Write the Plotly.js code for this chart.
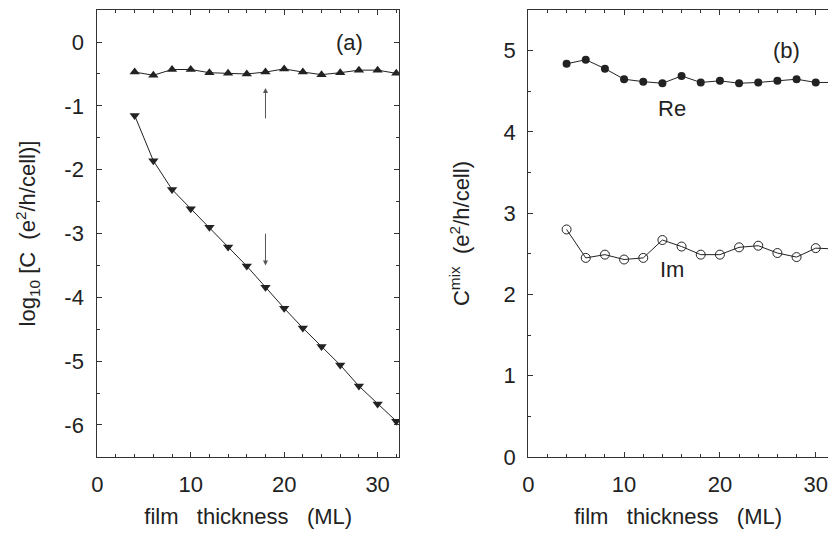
<!DOCTYPE html>
<html>
<head>
<meta charset="utf-8">
<script src="https://cdn.plot.ly/plotly-3.0.1.min.js"></script>
<style>html,body{margin:0;padding:0;background:#fff;}#chart{width:828px;height:535px;}</style>
</head>
<body>
<div id="chart"></div>
<script>
// ---- data ----
var thickness = [4, 6, 8, 10, 12, 14, 16, 18, 20, 22, 24, 26, 28, 30, 32];
// panel (a): log10 conductance
var logC_upper = [-0.47, -0.52, -0.43, -0.43, -0.48, -0.49, -0.50, -0.47, -0.42, -0.47, -0.51, -0.48, -0.44, -0.44, -0.49];
var logC_lower = [-1.15, -1.86, -2.31, -2.61, -2.90, -3.21, -3.51, -3.84, -4.17, -4.48, -4.77, -5.06, -5.39, -5.67, -5.94];
// panel (b): mixing conductance
var Cmix_Re = [4.84, 4.89, 4.78, 4.65, 4.62, 4.60, 4.69, 4.61, 4.63, 4.60, 4.61, 4.63, 4.65, 4.61, 4.61];
var Cmix_Im = [2.80, 2.45, 2.49, 2.43, 2.45, 2.67, 2.59, 2.49, 2.49, 2.58, 2.60, 2.51, 2.46, 2.57, 2.56];
// tick labels
var xTickVals = [0, 10, 20, 30];
var xTickText = ["0", "10", "20", "30"];
var yTickValsA = [-6, -5, -4, -3, -2, -1, 0];
var yTickTextA = ["-6", "-5", "-4", "-3", "-2", "-1", "0"];
var yTickValsB = [0, 1, 2, 3, 4, 5];
var yTickTextB = ["0", "1", "2", "3", "4", "5"];
// labels
var panelLabels = ["(a)", "(b)"];
var seriesLabels = ["Re", "Im"];
var xTitle = "film\u00a0\u00a0\u00a0thickness\u00a0\u00a0\u00a0(ML)";
var yTitleA = "log<sub>10</sub>\u00a0[C\u00a0\u00a0(e<sup>2</sup>/h/cell)]";
var yTitleB = "C<sup>mix</sup>\u00a0\u00a0(e<sup>2</sup>/h/cell)";

var ink = "#222";
var fontFam = "Liberation Sans, Arial, sans-serif";
var fs = 22;

var traces = [
  {x: thickness, y: logC_upper, xaxis: "x", yaxis: "y", mode: "lines+markers",
   line: {color: ink, width: 1}, marker: {symbol: "triangle-up", size: 9, color: ink}},
  {x: thickness, y: logC_lower, xaxis: "x", yaxis: "y", mode: "lines+markers",
   line: {color: ink, width: 1}, marker: {symbol: "triangle-down", size: 9, color: ink}},
  {x: thickness, y: Cmix_Re, xaxis: "x2", yaxis: "y2", mode: "lines+markers",
   line: {color: ink, width: 1}, marker: {symbol: "circle", size: 8, color: ink}},
  {x: thickness, y: Cmix_Im, xaxis: "x2", yaxis: "y2", mode: "lines+markers",
   line: {color: ink, width: 1}, marker: {symbol: "circle-open", size: 9, color: ink, line: {width: 1, color: ink}}}
];

function xax(domain, range, anchor) {
  return {
    domain: domain, range: range, anchor: anchor,
    showline: true, linecolor: "#333", linewidth: 1, mirror: "ticks",
    ticks: "inside", ticklen: 5, tickcolor: "#333",
    tickmode: "array", tickvals: xTickVals, ticktext: xTickText,
    minor: {tickmode: "linear", tick0: 0, dtick: 2, ticks: "inside", ticklen: 3, tickcolor: "#333"},
    showgrid: false, zeroline: false, ticklabelstandoff: 8,
    tickfont: {family: fontFam, size: fs, color: ink},
    title: {text: xTitle, font: {family: fontFam, size: fs, color: ink}, standoff: 12}
  };
}
function yax(domain, range, anchor, mirror, title, vals, text, standoff, lblOff) {
  return {
    domain: domain, range: range, anchor: anchor,
    showline: true, linecolor: "#333", linewidth: 1, mirror: mirror,
    ticks: "inside", ticklen: 5, tickcolor: "#333",
    tickmode: "array", tickvals: vals, ticktext: text,
    minor: {tickmode: "linear", tick0: 0, dtick: 0.5, ticks: "inside", ticklen: 3, tickcolor: "#333"},
    showgrid: false, zeroline: false, ticklabelstandoff: lblOff,
    tickfont: {family: fontFam, size: fs, color: ink},
    title: {text: title, font: {family: fontFam, size: fs, color: ink}, standoff: standoff}
  };
}

var layout = {
  width: 828, height: 535,
  margin: {l: 0, r: 0, t: 0, b: 0},
  paper_bgcolor: "#fff", plot_bgcolor: "#fff",
  showlegend: false,
  font: {family: fontFam, color: ink},
  xaxis: xax([0.1175, 0.482], [0, 32.3], "y"),
  yaxis: yax([0.146, 0.981], [-6.5, 0.5], "x", "ticks", yTitleA, yTickValsA, yTickTextA, 22, 8),
  xaxis2: xax([0.638, 1.0], [0, 31.28], "y2"),
  yaxis2: yax([0.146, 0.981], [0, 5.5], "x2", false, yTitleB, yTickValsB, yTickTextB, 27, 7),
  annotations: [
    {x: 27, y: 0, xref: "x", yref: "y", text: panelLabels[0], showarrow: false,
     font: {family: fontFam, size: fs, color: ink}},
    {x: 27, y: 5, xref: "x2", yref: "y2", text: panelLabels[1], showarrow: false,
     font: {family: fontFam, size: fs, color: ink}},
    {x: 15, y: 4.29, xref: "x2", yref: "y2", text: seriesLabels[0], showarrow: false,
     font: {family: fontFam, size: fs, color: ink}},
    {x: 15, y: 2.31, xref: "x2", yref: "y2", text: seriesLabels[1], showarrow: false,
     font: {family: fontFam, size: fs, color: ink}},
    {x: 18, y: -0.72, ax: 18, ay: -1.22, xref: "x", yref: "y", axref: "x", ayref: "y",
     text: "", showarrow: true, arrowhead: 2, arrowsize: 1, arrowwidth: 1, arrowcolor: "#555"},
    {x: 18, y: -3.5, ax: 18, ay: -2.98, xref: "x", yref: "y", axref: "x", ayref: "y",
     text: "", showarrow: true, arrowhead: 2, arrowsize: 1, arrowwidth: 1, arrowcolor: "#555"}
  ]
};

Plotly.newPlot("chart", traces, layout, {staticPlot: true, displayModeBar: false});
</script>
</body>
</html>
